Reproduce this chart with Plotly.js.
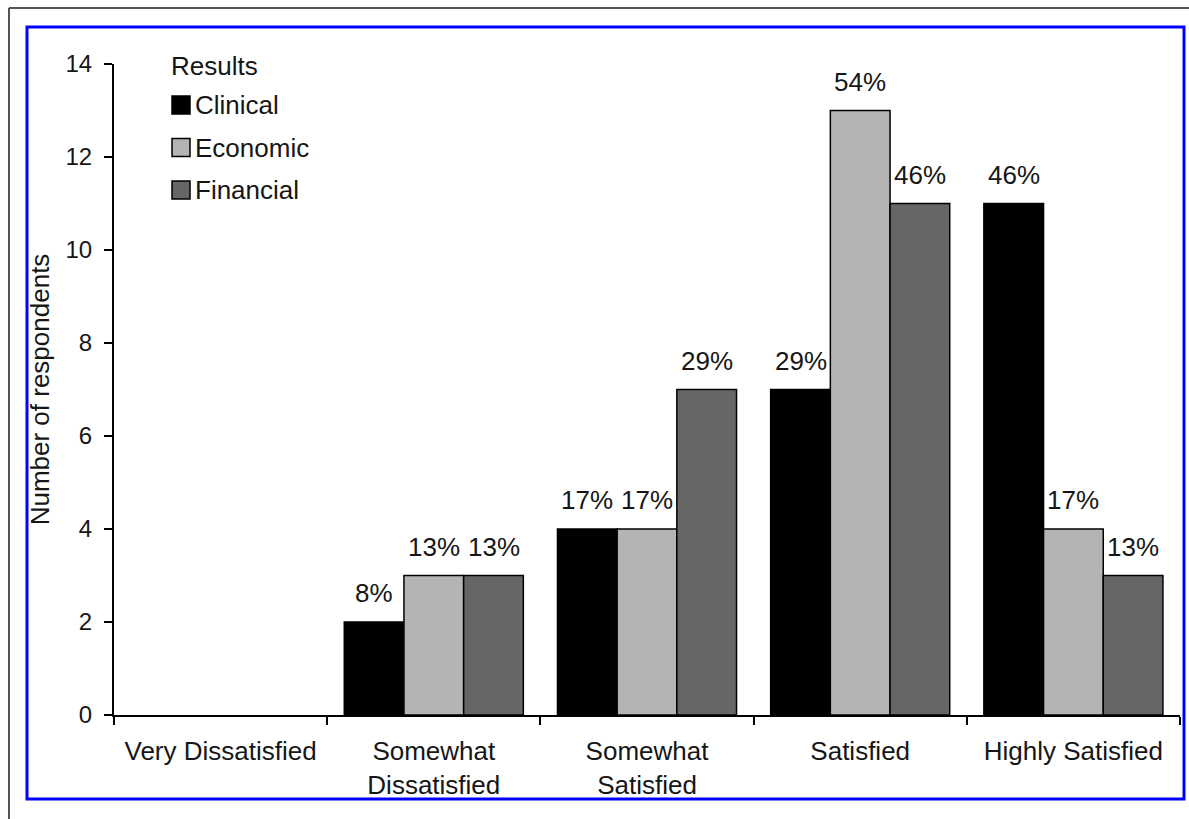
<!DOCTYPE html>
<html>
<head>
<meta charset="utf-8">
<script src="https://cdn.plot.ly/plotly-3.0.1.min.js"></script>
<style>
  html, body { margin: 0; padding: 0; background: #ffffff; }
  #chart { width: 1189px; height: 819px; }
</style>
</head>
<body>
<div id="chart"></div>
<script>
// Satisfaction categories along the x axis
const categories = [
  "Very Dissatisfied",
  "Somewhat<br>Dissatisfied",
  "Somewhat<br>Satisfied",
  "Satisfied",
  "Highly Satisfied"
];

// Number of respondents per result type
const clinical  = [0, 2, 4, 7, 11];
const economic  = [0, 3, 4, 13, 4];
const financial = [0, 3, 7, 11, 3];

// Share of respondents shown above each bar
const clinicalPct  = ["", "8%", "17%", "29%", "46%"];
const economicPct  = ["", "13%", "17%", "54%", "17%"];
const financialPct = ["", "13%", "29%", "46%", "13%"];

const seriesNames  = ["Clinical", "Economic", "Financial"];
const seriesValues = [clinical, economic, financial];
const seriesPct    = [clinicalPct, economicPct, financialPct];
const seriesColors = ["#000000", "#b4b4b4", "#666666"];
const legendTitle  = "Results";

const yTicks = [0, 2, 4, 6, 8, 10, 12, 14];

const FONT = "Liberation Sans, Arial, Helvetica, sans-serif";
const TEXT = "#161616";
const BARGAP = 0.16;

const traces = seriesNames.map((name, i) => ({
  type: "bar",
  name: name,
  x: categories,
  y: seriesValues[i],
  marker: {
    color: seriesColors[i],
    // empty bars get no outline
    line: { color: "#000000", width: seriesValues[i].map(v => (v === 0 ? 0 : 1.5)) }
  },
  hoverinfo: "x+y+name"
}));

// Plot area spans pixels 114..1180 horizontally and 64..715 vertically
const L = 114, R = 1180, T = 64, B = 715;
const px = v => (v - L) / (R - L);
const py = v => (B - v) / (B - T);

// Percentage labels placed over each bar of the group
const annotations = [];
const slot = (1 - BARGAP) / seriesNames.length;
seriesNames.forEach((name, i) => {
  seriesValues[i].forEach((v, c) => {
    if (!seriesPct[i][c]) return;
    annotations.push({
      xref: "x", yref: "y",
      x: c + (i - (seriesNames.length - 1) / 2) * slot,
      y: v,
      text: seriesPct[i][c],
      showarrow: false,
      yanchor: "middle",
      yshift: 29,
      font: { family: FONT, size: 26, color: TEXT }
    });
  });
});

const shapes = [
  // outer page rules
  { type: "line", xref: "paper", yref: "paper", x0: px(9), x1: px(1189), y0: py(8), y1: py(8),
    line: { color: "#555555", width: 2 } },
  { type: "line", xref: "paper", yref: "paper", x0: px(9), x1: px(9), y0: py(8), y1: py(819),
    line: { color: "#555555", width: 2 } },
  // blue frame
  { type: "rect", xref: "paper", yref: "paper", x0: px(27), x1: px(1184), y0: py(27), y1: py(799),
    line: { color: "#0000ff", width: 3 }, fillcolor: "rgba(0,0,0,0)" }
];

// Key: title, then one square swatch and name per series
const keyLeft = 172, keyTitleY = 66, keyFirstY = 105, keyStep = 42.5, swatch = 18;
annotations.push({
  xref: "paper", yref: "paper", x: px(keyLeft - 3), y: py(keyTitleY),
  xanchor: "left", yanchor: "middle", showarrow: false,
  text: legendTitle, font: { family: FONT, size: 26, color: TEXT }
});
seriesNames.forEach((name, i) => {
  const cy = keyFirstY + i * keyStep;
  shapes.push({
    type: "rect", xref: "paper", yref: "paper",
    x0: px(keyLeft), x1: px(keyLeft + swatch),
    y0: py(cy - swatch / 2), y1: py(cy + swatch / 2),
    fillcolor: seriesColors[i], line: { color: "#000000", width: 1.5 }
  });
  annotations.push({
    xref: "paper", yref: "paper", x: px(keyLeft + swatch + 3), y: py(cy),
    xanchor: "left", yanchor: "middle", showarrow: false,
    text: name, font: { family: FONT, size: 26, color: TEXT }
  });
});

const layout = {
  width: 1189,
  height: 819,
  margin: { l: L, r: 1189 - R, t: T, b: 819 - B },
  paper_bgcolor: "#ffffff",
  plot_bgcolor: "#ffffff",
  barmode: "group",
  bargap: BARGAP,
  bargroupgap: 0,
  font: { family: FONT, size: 26, color: TEXT },
  showlegend: false,
  xaxis: {
    type: "category",
    categoryorder: "array",
    categoryarray: categories,
    showline: true, linecolor: "#000000", linewidth: 2,
    ticks: "outside", ticklen: 8, tickwidth: 2, tickcolor: "#000000",
    tickson: "boundaries",
    showgrid: false, zeroline: false,
    tickfont: { family: FONT, size: 26, color: TEXT },
    ticklabelstandoff: 12
  },
  yaxis: {
    range: [0, 14],
    tickvals: yTicks,
    ticktext: yTicks.map(String),
    showline: true, linecolor: "#000000", linewidth: 2,
    ticks: "outside", ticklen: 8, tickwidth: 2, tickcolor: "#000000",
    showgrid: false, zeroline: false,
    tickfont: { family: FONT, size: 24, color: TEXT },
    ticklabelstandoff: 7,
    title: { text: "Number of respondents", font: { family: FONT, size: 26, color: TEXT }, standoff: 8 },
    automargin: false
  },
  annotations: annotations,
  shapes: shapes
};

Plotly.newPlot("chart", traces, layout, { displayModeBar: false, staticPlot: true });
</script>
</body>
</html>
